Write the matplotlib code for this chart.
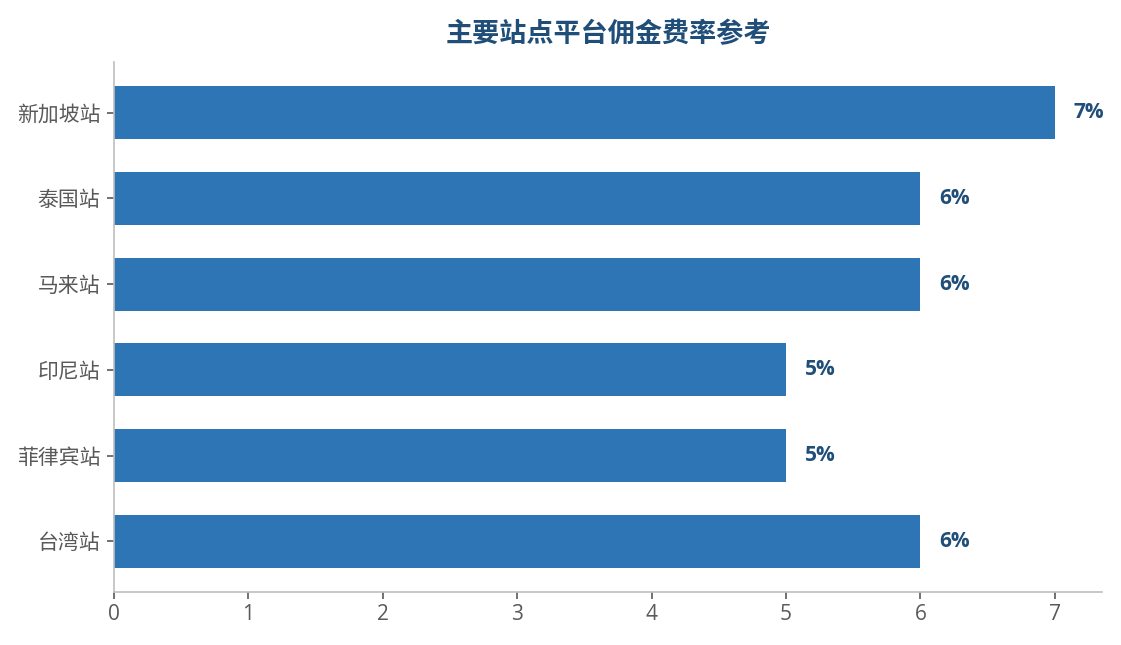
import matplotlib
matplotlib.use("Agg")
import matplotlib.pyplot as plt

plt.rcParams['font.family'] = ['Open Sans', 'Noto Sans CJK SC', 'DejaVu Sans']

# station, commission rate (%)
stations = ["新加坡站", "泰国站", "马来站", "印尼站", "菲律宾站", "台湾站"]
rates = [7, 6, 6, 5, 5, 6]
xticks = list(range(0, 8))

fig = plt.figure(figsize=(11.21, 6.45), dpi=100)
ax = fig.add_axes([0.1017, 0.0822, 0.8813, 0.8217])

y = list(range(len(stations)))
ax.barh(y, rates, height=0.62, color="#2E75B6")
ax.set_yticks(y)
ax.set_yticklabels(stations, fontsize=15)
ax.set_ylim(len(stations) - 0.41, -0.59)
ax.set_xlim(0, 7.35)
ax.set_xticks(xticks)
ax.set_xticklabels([str(t) for t in xticks], fontsize=15)

for yi, r in zip(y, rates):
    ax.text(r + 0.14, yi, f"{r}%", va="center", ha="left",
            fontsize=15, fontweight="bold", color="#1F4E79")

ax.set_title("主要站点平台佣金费率参考", fontsize=19.5, fontweight="bold",
             color="#1F4E79", pad=14)

for s in ["top", "right"]:
    ax.spines[s].set_visible(False)
for s in ["left", "bottom"]:
    ax.spines[s].set_color("#BFBFBF")
    ax.spines[s].set_linewidth(1.2)
ax.tick_params(axis="both", colors="#595959", length=5, width=1.2)
ax.tick_params(axis="y", pad=5)

fig.savefig("out.png", dpi=100)
